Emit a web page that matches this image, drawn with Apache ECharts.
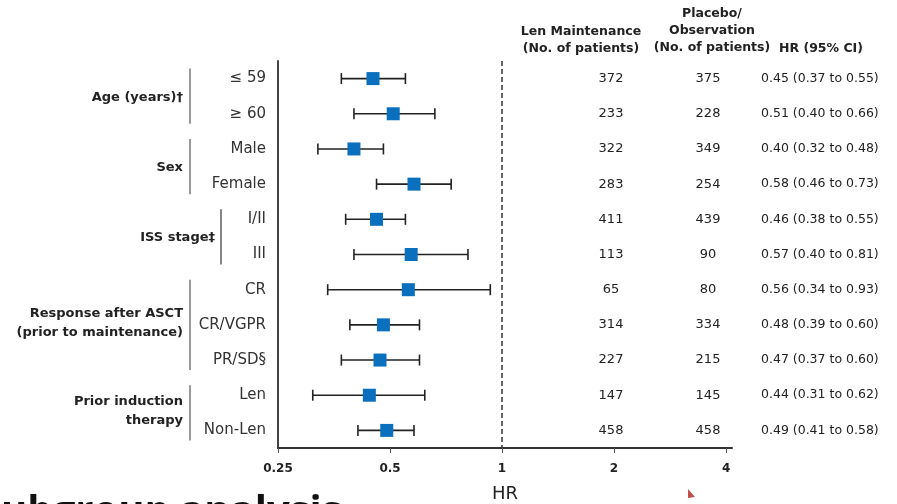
<!DOCTYPE html>
<html><head><meta charset="utf-8">
<script src="https://cdn.jsdelivr.net/npm/echarts@6/dist/echarts.min.js"></script>
<style>html,body{margin:0;padding:0;background:#fff}#c{width:897px;height:504px}</style>
</head><body><div id="c"></div>
<script>
const subgroups = ['≤ 59','≥ 60','Male','Female','I/II','III','CR','CR/VGPR','PR/SD§','Len','Non-Len'];
const hr     = [0.45,0.51,0.40,0.58,0.46,0.57,0.56,0.48,0.47,0.44,0.49];
const ciLow  = [0.37,0.40,0.32,0.46,0.38,0.40,0.34,0.39,0.37,0.31,0.41];
const ciHigh = [0.55,0.66,0.48,0.73,0.55,0.81,0.93,0.60,0.60,0.62,0.58];
const lenN     = [372,233,322,283,411,113,65,314,227,147,458];
const placeboN = [375,228,349,254,439,90,80,334,215,145,458];
const groupLabels = ['Age (years)†','Sex','ISS stage‡','Response after ASCT\n(prior to maintenance)','Prior induction\ntherapy'];
const groupStart = [0,2,4,6,9];
const groupEnd   = [1,3,5,8,10];
const xTicks = [0.25,0.5,1,2,4];
const refLine = 1;

const FONT = 'DejaVu Sans';
const chart = echarts.init(document.getElementById('c'), null, {renderer:'canvas'});

const hrText = hr.map((v,i)=>v.toFixed(2)+' ('+ciLow[i].toFixed(2)+' to '+ciHigh[i].toFixed(2)+')');

chart.setOption({
  animation:false,
  grid:{left:278, right:165, top:61, bottom:56, containLabel:false, outerBoundsMode:'none'},
  xAxis:{
    type:'log', logBase:2, min:0.25, max:4.15,
    axisLine:{show:true, lineStyle:{color:'#333', width:2}},
    axisTick:{show:true, length:5, lineStyle:{color:'#555', width:1}, customValues:xTicks},
    axisLabel:{customValues:xTicks, formatter:v=>String(v), fontFamily:FONT, fontSize:12, fontWeight:'bold', color:'#222', margin:15},
    splitLine:{show:false}, minorTick:{show:false},
    name:'HR', nameLocation:'middle', nameGap:37,
    nameTextStyle:{fontFamily:FONT, fontSize:18, color:'#222'}
  },
  yAxis:{
    type:'category', inverse:true, data:subgroups,
    axisLine:{lineStyle:{color:'#444', width:2}},
    axisTick:{alignWithLabel:true, length:6, lineStyle:{color:'#444', width:1}},
    axisLabel:{fontFamily:FONT, fontSize:15, color:'#333', margin:12},
    splitLine:{show:false}
  },
  series:[
    {
      type:'custom',
      data: subgroups.map((s,i)=>[i, ciLow[i], ciHigh[i]]),
      encode:{y:0, x:[1,2]},
      renderItem:function(params, api){
        const i = api.value(0);
        const p1 = api.coord([api.value(1), i]);
        const p2 = api.coord([api.value(2), i]);
        const st = {stroke:'#222', lineWidth:1.6};
        const h = 5.5;
        return {type:'group', children:[
          {type:'line', shape:{x1:p1[0],y1:p1[1],x2:p2[0],y2:p2[1]}, style:st},
          {type:'line', shape:{x1:p1[0],y1:p1[1]-h,x2:p1[0],y2:p1[1]+h}, style:st},
          {type:'line', shape:{x1:p2[0],y1:p2[1]-h,x2:p2[0],y2:p2[1]+h}, style:st}
        ]};
      },
      z:2
    },
    {
      type:'scatter',
      data: subgroups.map((s,i)=>[hr[i], i]),
      symbol:'rect', symbolSize:13,
      itemStyle:{color:'#0A6FBC', opacity:1},
      z:3,
      markLine:{
        silent:true, symbol:'none', animation:false,
        label:{show:false},
        lineStyle:{color:'#333', width:1.5, type:[5,3]},
        data:[{xAxis:refLine}]
      }
    },
    {
      type:'custom',
      data: subgroups.map((s,i)=>[i, 1]),
      encode:{y:0, x:1},
      renderItem:function(params, api){
        const i = api.value(0);
        const y = api.coord([1, i])[1];
        const ts = {fontFamily:FONT, fontSize:13, fill:'#222', verticalAlign:'middle'};
        return {type:'group', children:[
          {type:'text', x:611, y:y, style:Object.assign({}, ts, {text:String(lenN[i]), align:'center'})},
          {type:'text', x:708, y:y, style:Object.assign({}, ts, {text:String(placeboN[i]), align:'center'})},
          {type:'text', x:761, y:y, style:Object.assign({}, ts, {text:hrText[i], align:'left', fontSize:12.5})}
        ]};
      },
      z:4
    }
  ]
});

function headerText(x, y, txt, align){
  return {type:'text', x:x, y:y, style:{text:txt, fontFamily:FONT, fontSize:12.5, fontWeight:'bold', fill:'#222', align:align||'center', verticalAlign:'middle', lineHeight:17}};
}
const g = [];
g.push(headerText(581, 40, 'Len Maintenance\n(No. of patients)'));
g.push(headerText(712, 31, 'Placebo/\nObservation\n(No. of patients)'));
g.push(headerText(821, 49, 'HR (95% CI)'));

groupLabels.forEach((lab, k)=>{
  const y1 = chart.convertToPixel({yAxisIndex:0}, groupStart[k]);
  const y2 = chart.convertToPixel({yAxisIndex:0}, groupEnd[k]);
  const iss = k === 2;
  const bx = iss ? 221 : 190;
  const tx = iss ? 215 : 183;
  g.push({type:'line', shape:{x1:bx, y1:y1-10, x2:bx, y2:y2+10},
          style:{stroke: iss ? '#333' : '#999', lineWidth: iss ? 1.2 : 2}});
  g.push({type:'text', x:tx, y:(y1+y2)/2 - (lab.indexOf('\n')>=0 ? 3 : 0) + 1,
          style:{text:lab, fontFamily:FONT, fontSize:13, fontWeight:'bold', fill:'#222', align:'right', verticalAlign:'middle', lineHeight:19}});
});

g.push({type:'text', x:-21, y:513, style:{text:'Subgroup analysis', fontFamily:'Open Sans', fontSize:40, fontWeight:'bold', fill:'#111', align:'left', verticalAlign:'middle'}});
g.push({type:'polygon', shape:{points:[[688,489],[695,497],[688,498]]}, style:{fill:'#c0504d'}});

chart.setOption({graphic:g});
</script>
</body></html>
